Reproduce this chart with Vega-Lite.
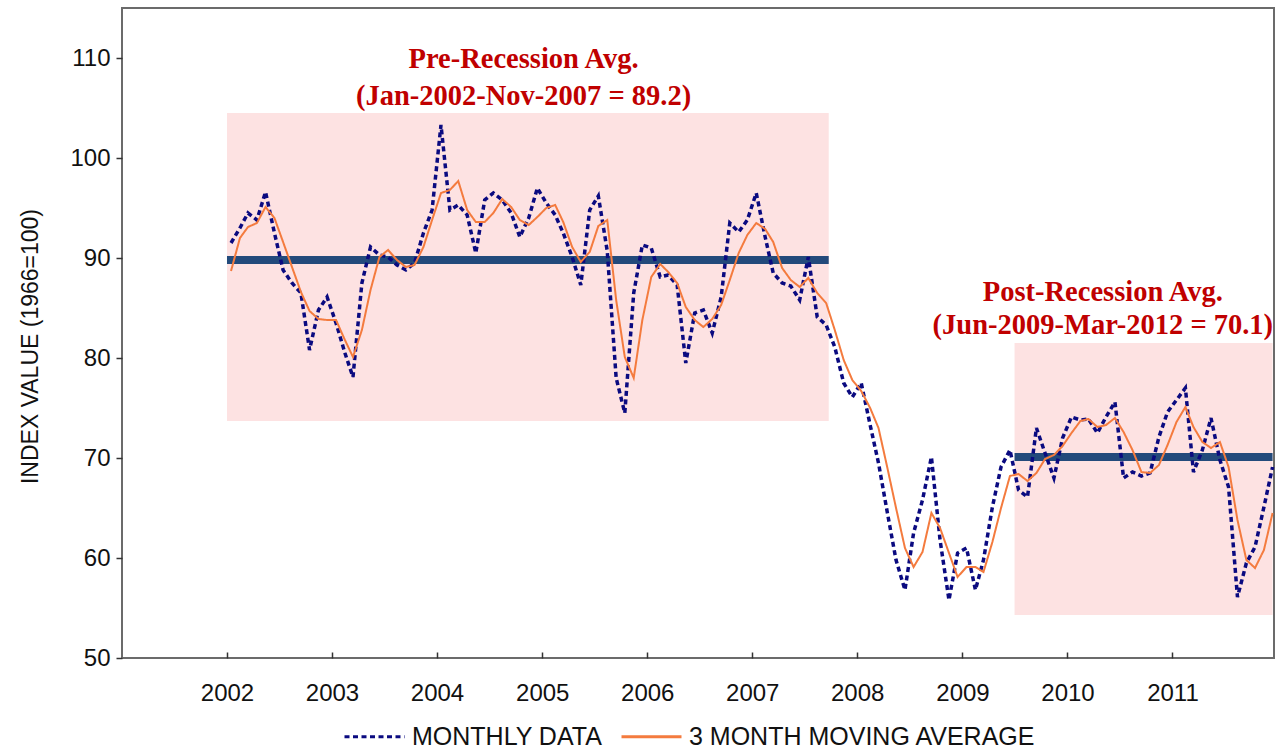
{
  "$schema": "https://vega.github.io/schema/vega-lite/v6.json",
  "width": 1152,
  "height": 650,
  "autosize": {"type": "none"},
  "padding": {"left": 122, "top": 8, "right": 3, "bottom": 94},
  "background": "#ffffff",
  "config": {
    "view": {"stroke": "#6b6b6b", "strokeWidth": 2},
    "axis": {"grid": false, "domain": false, "labelFont": "Liberation Sans", "labelFontSize": 24, "labelColor": "#111111", "titleFont": "Liberation Sans", "titleFontSize": 23, "titleFontWeight": "normal", "titleColor": "#111111", "tickColor": "#333333", "tickWidth": 1.5}
  },
  "datasets": {
    "series": [
      {"date":"2002-01-15","monthly":91.5,"ma":88.7},{"date":"2002-02-15","monthly":93.0,"ma":92.0},{"date":"2002-03-15","monthly":94.5,"ma":93.1},{"date":"2002-04-15","monthly":93.8,"ma":93.5},{"date":"2002-05-15","monthly":96.6,"ma":95.1},{"date":"2002-06-15","monthly":92.5,"ma":94.0},{"date":"2002-07-15","monthly":88.8,"ma":91.6},{"date":"2002-08-15","monthly":87.5,"ma":89.1},{"date":"2002-09-15","monthly":86.5,"ma":86.6},{"date":"2002-10-15","monthly":80.8,"ma":84.7},{"date":"2002-11-15","monthly":84.8,"ma":83.9},{"date":"2002-12-15","monthly":86.1,"ma":83.8},
      {"date":"2003-01-15","monthly":83.5,"ma":83.8},{"date":"2003-02-15","monthly":80.5,"ma":81.8},{"date":"2003-03-15","monthly":78.1,"ma":80.1},{"date":"2003-04-15","monthly":87.5,"ma":82.8},{"date":"2003-05-15","monthly":91.1,"ma":86.8},{"date":"2003-06-15","monthly":90.3,"ma":90.1},{"date":"2003-07-15","monthly":90.1,"ma":90.8},{"date":"2003-08-15","monthly":89.3,"ma":89.8},{"date":"2003-09-15","monthly":88.8,"ma":89.1},{"date":"2003-10-15","monthly":89.5,"ma":89.3},{"date":"2003-11-15","monthly":92.5,"ma":91.1},{"date":"2003-12-15","monthly":94.8,"ma":93.8},
      {"date":"2004-01-15","monthly":103.3,"ma":96.5},{"date":"2004-02-15","monthly":94.8,"ma":96.8},{"date":"2004-03-15","monthly":95.3,"ma":97.7},{"date":"2004-04-15","monthly":94.3,"ma":94.8},{"date":"2004-05-15","monthly":90.5,"ma":93.6},{"date":"2004-06-15","monthly":95.8,"ma":93.6},{"date":"2004-07-15","monthly":96.5,"ma":94.5},{"date":"2004-08-15","monthly":95.8,"ma":95.9},{"date":"2004-09-15","monthly":94.5,"ma":95.1},{"date":"2004-10-15","monthly":92.1,"ma":93.8},{"date":"2004-11-15","monthly":94.0,"ma":93.3},{"date":"2004-12-15","monthly":97.0,"ma":94.1},
      {"date":"2005-01-15","monthly":95.5,"ma":95.0},{"date":"2005-02-15","monthly":94.3,"ma":95.3},{"date":"2005-03-15","monthly":92.5,"ma":93.6},{"date":"2005-04-15","monthly":90.1,"ma":91.1},{"date":"2005-05-15","monthly":87.3,"ma":89.6},{"date":"2005-06-15","monthly":94.8,"ma":90.6},{"date":"2005-07-15","monthly":96.2,"ma":93.2},{"date":"2005-08-15","monthly":90.7,"ma":93.8},{"date":"2005-09-15","monthly":78.0,"ma":85.8},{"date":"2005-10-15","monthly":74.5,"ma":80.1},{"date":"2005-11-15","monthly":86.5,"ma":78.0},{"date":"2005-12-15","monthly":91.3,"ma":83.8},
      {"date":"2006-01-15","monthly":91.0,"ma":88.1},{"date":"2006-02-15","monthly":88.1,"ma":89.4},{"date":"2006-03-15","monthly":88.3,"ma":88.6},{"date":"2006-04-15","monthly":87.3,"ma":87.5},{"date":"2006-05-15","monthly":79.5,"ma":85.1},{"date":"2006-06-15","monthly":84.5,"ma":83.8},{"date":"2006-07-15","monthly":84.8,"ma":83.1},{"date":"2006-08-15","monthly":82.5,"ma":83.9},{"date":"2006-09-15","monthly":86.1,"ma":85.3},{"date":"2006-10-15","monthly":93.5,"ma":87.8},{"date":"2006-11-15","monthly":92.6,"ma":90.5},{"date":"2006-12-15","monthly":93.8,"ma":92.3},
      {"date":"2007-01-15","monthly":96.5,"ma":93.5},{"date":"2007-02-15","monthly":92.1,"ma":92.9},{"date":"2007-03-15","monthly":88.5,"ma":91.6},{"date":"2007-04-15","monthly":87.5,"ma":89.0},{"date":"2007-05-15","monthly":87.2,"ma":87.8},{"date":"2007-06-15","monthly":85.8,"ma":87.1},{"date":"2007-07-15","monthly":90.1,"ma":88.0},{"date":"2007-08-15","monthly":84.1,"ma":86.5},{"date":"2007-09-15","monthly":83.3,"ma":85.5},{"date":"2007-10-15","monthly":81.1,"ma":82.8},{"date":"2007-11-15","monthly":77.5,"ma":79.8},{"date":"2007-12-15","monthly":76.1,"ma":77.8},
      {"date":"2008-01-15","monthly":77.5,"ma":76.7},{"date":"2008-02-15","monthly":73.3,"ma":75.0},{"date":"2008-03-15","monthly":69.5,"ma":73.0},{"date":"2008-04-15","monthly":64.5,"ma":69.0},{"date":"2008-05-15","monthly":59.8,"ma":65.0},{"date":"2008-06-15","monthly":56.8,"ma":61.0},{"date":"2008-07-15","monthly":62.5,"ma":59.1},{"date":"2008-08-15","monthly":65.8,"ma":60.6},{"date":"2008-09-15","monthly":70.1,"ma":64.5},{"date":"2008-10-15","monthly":61.8,"ma":63.0},{"date":"2008-11-15","monthly":55.8,"ma":60.5},{"date":"2008-12-15","monthly":60.5,"ma":58.1},
      {"date":"2009-01-15","monthly":61.0,"ma":59.1},{"date":"2009-02-15","monthly":56.8,"ma":59.1},{"date":"2009-03-15","monthly":59.8,"ma":58.6},{"date":"2009-04-15","monthly":65.1,"ma":61.6},{"date":"2009-05-15","monthly":69.1,"ma":65.0},{"date":"2009-06-15","monthly":70.8,"ma":68.2},{"date":"2009-07-15","monthly":66.8,"ma":68.4},{"date":"2009-08-15","monthly":66.1,"ma":67.7},{"date":"2009-09-15","monthly":73.0,"ma":68.5},{"date":"2009-10-15","monthly":70.5,"ma":69.9},{"date":"2009-11-15","monthly":68.0,"ma":70.3},{"date":"2009-12-15","monthly":72.0,"ma":71.2},
      {"date":"2010-01-15","monthly":74.1,"ma":72.5},{"date":"2010-02-15","monthly":73.8,"ma":73.7},{"date":"2010-03-15","monthly":73.9,"ma":73.9},{"date":"2010-04-15","monthly":72.5,"ma":73.1},{"date":"2010-05-15","monthly":74.1,"ma":73.3},{"date":"2010-06-15","monthly":75.6,"ma":74.0},{"date":"2010-07-15","monthly":68.0,"ma":72.6},{"date":"2010-08-15","monthly":68.6,"ma":70.8},{"date":"2010-09-15","monthly":68.2,"ma":68.6},{"date":"2010-10-15","monthly":68.5,"ma":68.5},{"date":"2010-11-15","monthly":72.1,"ma":69.3},{"date":"2010-12-15","monthly":74.6,"ma":71.3},
      {"date":"2011-01-15","monthly":75.8,"ma":73.6},{"date":"2011-02-15","monthly":77.0,"ma":75.1},{"date":"2011-03-15","monthly":68.6,"ma":73.1},{"date":"2011-04-15","monthly":70.8,"ma":71.6},{"date":"2011-05-15","monthly":74.0,"ma":71.0},{"date":"2011-06-15","monthly":69.8,"ma":71.6},{"date":"2011-07-15","monthly":67.1,"ma":69.1},{"date":"2011-08-15","monthly":56.1,"ma":63.8},{"date":"2011-09-15","monthly":59.5,"ma":59.8},{"date":"2011-10-15","monthly":61.1,"ma":59.0},{"date":"2011-11-15","monthly":65.1,"ma":60.8},{"date":"2011-12-15","monthly":69.1,"ma":64.5}
    ],
    "bands": [
      {"start":"2002-01-01","end":"2007-09-24","low":73.7,"high":104.5,"avg":89.8},
      {"start":"2009-07-01","end":"2011-12-15","low":54.3,"high":81.5,"avg":70.1}
    ],
    "notes": [
      {"date":"2004-10-28","value":109.9,"label":"Pre-Recession Avg."},
      {"date":"2004-10-28","value":106.2,"label":"(Jan-2002-Nov-2007 = 89.2)"},
      {"date":"2010-05-04","value":86.6,"label":"Post-Recession Avg."},
      {"date":"2010-05-04","value":83.3,"label":"(Jun-2009-Mar-2012 = 70.1)"}
    ]
  },
  "layer": [
    {
      "data": {"name": "bands"},
      "mark": {"type": "rect", "fill": "#fde2e2"},
      "encoding": {
        "x": {"field": "start", "type": "temporal", "title": null},
        "x2": {"field": "end"},
        "y": {"field": "low", "type": "quantitative", "title": "INDEX VALUE (1966=100)"},
        "y2": {"field": "high"}
      }
    },
    {
      "data": {"name": "bands"},
      "mark": {"type": "rule", "stroke": "#234a7b", "strokeWidth": 8},
      "encoding": {
        "x": {"field": "start", "type": "temporal", "title": null},
        "x2": {"field": "end"},
        "y": {"field": "avg", "type": "quantitative", "title": "INDEX VALUE (1966=100)"}
      }
    },
    {
      "data": {"name": "series"},
      "mark": {"type": "line", "strokeWidth": 3.5},
      "encoding": {
        "x": {
          "field": "date", "type": "temporal", "title": null,
          "scale": {"type": "utc", "domain": [{"year": 2001, "month": 1, "date": 1, "utc": true}, {"year": 2011, "month": 12, "date": 20, "utc": true}]},
          "axis": {"values": [{"year":2002,"utc":true},{"year":2003,"utc":true},{"year":2004,"utc":true},{"year":2005,"utc":true},{"year":2006,"utc":true},{"year":2007,"utc":true},{"year":2008,"utc":true},{"year":2009,"utc":true},{"year":2010,"utc":true},{"year":2011,"utc":true}], "format": "%Y", "tickSize": -6, "labelPadding": 29, "labelAngle": 0}
        },
        "y": {
          "field": "monthly", "type": "quantitative", "title": "INDEX VALUE (1966=100)",
          "scale": {"domain": [50, 115], "nice": false, "zero": false},
          "axis": {"values": [50, 60, 70, 80, 90, 100, 110], "tickSize": 6, "labelPadding": 6, "titleAngle": -90, "titleX": -92, "titleY": 338, "titleAlign": "center", "titleBaseline": "middle"}
        },
        "color": {"datum": "MONTHLY DATA", "type": "nominal", "scale": {"domain": ["MONTHLY DATA", "3 MONTH MOVING AVERAGE"], "range": ["#0a0a80", "#f47b3e"]},
          "legend": {"orient": "none", "legendX": 221, "legendY": 697, "direction": "horizontal", "symbolType": "stroke", "symbolSize": 3600, "symbolStrokeWidth": 3, "labelFont": "Liberation Sans", "labelFontSize": 25, "labelColor": "#111111", "labelLimit": 0, "columnPadding": 12, "labelOffset": 6, "title": null, "padding": 0}},
        "strokeDash": {"datum": "MONTHLY DATA", "type": "nominal", "scale": {"domain": ["MONTHLY DATA", "3 MONTH MOVING AVERAGE"], "range": [[5, 3.5], [1, 0]]}, "legend": null}
      }
    },
    {
      "data": {"name": "series"},
      "mark": {"type": "line", "strokeWidth": 2},
      "encoding": {
        "x": {"field": "date", "type": "temporal", "title": null},
        "y": {"field": "ma", "type": "quantitative", "title": "INDEX VALUE (1966=100)"},
        "color": {"datum": "3 MONTH MOVING AVERAGE", "type": "nominal"},
        "strokeDash": {"datum": "3 MONTH MOVING AVERAGE", "type": "nominal"}
      }
    },
    {
      "data": {"name": "notes"},
      "mark": {"type": "text", "font": "Liberation Serif", "fontSize": 28.5, "fontWeight": "bold", "fill": "#c00000", "align": "center", "baseline": "middle"},
      "encoding": {
        "x": {"field": "date", "type": "temporal", "title": null},
        "y": {"field": "value", "type": "quantitative", "title": "INDEX VALUE (1966=100)"},
        "text": {"field": "label"}
      }
    }
  ]
}
